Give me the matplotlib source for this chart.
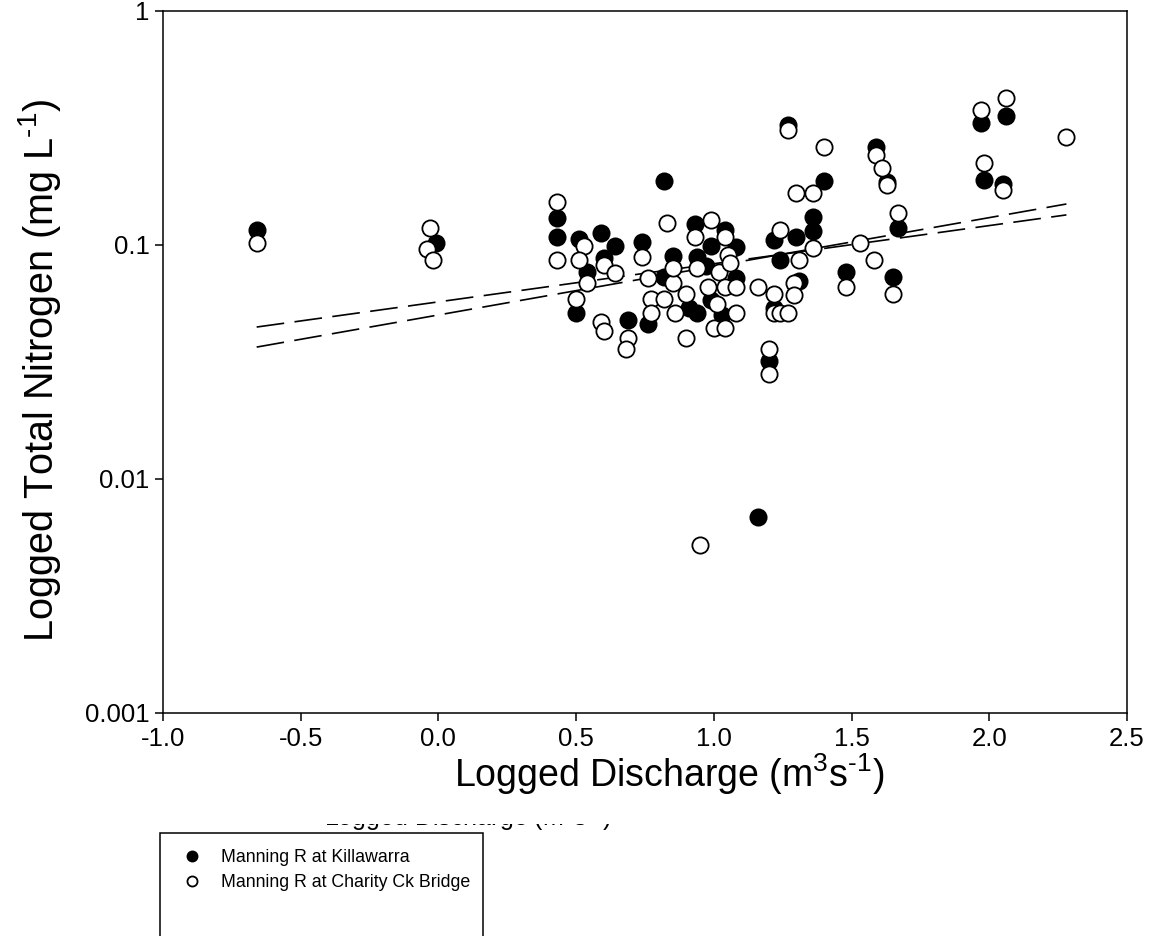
import matplotlib
matplotlib.use('Agg')
import matplotlib.pyplot as plt
import numpy as np
from matplotlib.patches import Rectangle
from matplotlib.ticker import NullLocator, FixedLocator, FixedFormatter

plt.rcParams['font.family'] = ['Liberation Sans', 'DejaVu Sans']
plt.rcParams['mathtext.fontset'] = 'custom'
plt.rcParams['mathtext.rm'] = 'Liberation Sans'
plt.rcParams['mathtext.it'] = 'Liberation Sans:italic'
plt.rcParams['mathtext.bf'] = 'Liberation Sans:bold'
plt.rcParams['lines.scale_dashes'] = False
plt.rcParams['axes.unicode_minus'] = False

# ---- data (log10 discharge, total nitrogen mg/L) ----
killawarra_q = [-0.66, -0.01, 0.43, 0.43, 0.51, 0.59, 0.64, 0.60, 0.54, 0.50,
                0.74, 0.69, 0.76, 0.82, 0.82, 0.85, 0.93, 0.94, 0.91, 0.94,
                0.97, 0.99, 0.99, 1.04, 1.08, 1.08, 1.03, 1.16, 1.22, 1.24,
                1.27, 1.30, 1.31, 1.22, 1.20, 1.36, 1.36, 1.40, 1.48, 1.59,
                1.63, 1.67, 1.65, 1.97, 2.06, 1.98, 2.05]
killawarra_tn = [0.116, 0.102, 0.130, 0.108, 0.106, 0.113, 0.099, 0.088, 0.077, 0.051,
                 0.103, 0.048, 0.046, 0.188, 0.073, 0.090, 0.123, 0.089, 0.054, 0.051,
                 0.081, 0.058, 0.099, 0.116, 0.098, 0.072, 0.050, 0.0069, 0.105, 0.086,
                 0.326, 0.108, 0.070, 0.054, 0.032, 0.132, 0.115, 0.188, 0.077, 0.262,
                 0.186, 0.118, 0.073, 0.332, 0.356, 0.190, 0.182]

charity_q = [-0.66, -0.03, -0.04, -0.02, 0.43, 0.43, 0.53, 0.51, 0.60, 0.64,
             0.54, 0.50, 0.59, 0.60, 0.74, 0.76, 0.77, 0.77, 0.69, 0.68,
             0.83, 0.82, 0.85, 0.85, 0.86, 0.90, 0.90, 0.93, 0.94, 0.99,
             0.98, 1.01, 1.00, 1.04, 1.02, 1.04, 1.04, 1.05, 1.06, 1.08,
             1.08, 1.16, 0.95, 1.24, 1.31, 1.36, 1.29, 1.29, 1.22, 1.22,
             1.24, 1.27, 1.20, 1.20, 1.27, 1.40, 1.30, 1.36, 1.53, 1.58,
             1.48, 1.59, 1.61, 1.63, 1.67, 1.65, 1.97, 2.06, 2.28, 1.98,
             2.05]
charity_tn = [0.102, 0.118, 0.096, 0.086, 0.153, 0.086, 0.099, 0.086, 0.082, 0.076,
              0.069, 0.059, 0.047, 0.043, 0.089, 0.072, 0.059, 0.051, 0.040, 0.036,
              0.124, 0.059, 0.069, 0.080, 0.051, 0.062, 0.040, 0.108, 0.080, 0.128,
              0.066, 0.056, 0.044, 0.044, 0.077, 0.066, 0.108, 0.091, 0.084, 0.051,
              0.066, 0.066, 0.0052, 0.116, 0.086, 0.097, 0.069, 0.061, 0.062, 0.051,
              0.051, 0.051, 0.036, 0.028, 0.310, 0.262, 0.167, 0.167, 0.102, 0.086,
              0.066, 0.242, 0.213, 0.180, 0.137, 0.062, 0.377, 0.425, 0.290, 0.224,
              0.172]

# regression fits: log10(TN) = intercept + slope * logQ
fit_a = (-1.243, 0.163)
fit_b = (-1.299, 0.208)

x_ticks = [-1.0, -0.5, 0.0, 0.5, 1.0, 1.5, 2.0, 2.5]
y_ticks = [0.001, 0.01, 0.1, 1]
y_ticklabels = ['0.001', '0.01', '0.1', '1']
labels = ['Manning R at Killawarra', 'Manning R at Charity Ck Bridge']

W, H = 1158, 936
fig = plt.figure(figsize=(W / 100, H / 100), dpi=100)
ax = fig.add_axes([163 / W, 1 - 713 / H, (1127 - 163) / W, (713 - 11) / H])

qmin = min(min(killawarra_q), min(charity_q))
qmax = max(max(killawarra_q), max(charity_q))
xs = np.array([qmin, qmax])
for a, b in (fit_a, fit_b):
    ax.plot(xs, 10 ** (a + b * xs), color='black', lw=1.2,
            linestyle=(0, (20, 7.5)), zorder=2)

ms, mew = 11.7, 1.3
hk, = ax.plot(killawarra_q, killawarra_tn, linestyle='none', marker='o', ms=ms,
              mfc='black', mec='black', mew=mew, zorder=3)
hc, = ax.plot(charity_q, charity_tn, linestyle='none', marker='o', ms=ms,
              mfc='white', mec='black', mew=mew, zorder=4)

ax.set_yscale('log')
ax.set_xlim(-1.0, 2.5)
ax.set_ylim(0.001, 1)
ax.xaxis.set_major_locator(FixedLocator(x_ticks))
ax.set_xticklabels(['%.1f' % v for v in x_ticks])
ax.yaxis.set_major_locator(FixedLocator(y_ticks))
ax.yaxis.set_major_formatter(FixedFormatter(y_ticklabels))
ax.yaxis.set_minor_locator(NullLocator())
ax.tick_params(direction='out', length=5.8, width=1.1, labelsize=18.5, pad=4)
for s in ax.spines.values():
    s.set_linewidth(1.1)

def fx(px):
    return px / W

def fy(py):
    return 1 - py / H

xlabel = 'Logged Discharge (m$^{\\text{3}}$s$^{\\text{-1}}$)'
fig.text(fx(669), fy(787), xlabel, ha='center', va='baseline', fontsize=27, zorder=5)
fig.text(fx(40), fy(370), 'Logged Total Nitrogen (mg L$^{\\text{-1}}$)', rotation=90,
         ha='center', va='center', fontsize=28.5, zorder=5)

# partially hidden duplicate label peeking out above the legend box
fig.text(fx(468), fy(826), xlabel, ha='center', va='baseline', fontsize=18, zorder=3)
cover = Rectangle((fx(290), fy(824)), fx(680) - fx(290), fy(798) - fy(824),
                  transform=fig.transFigure, facecolor='white', edgecolor='none',
                  zorder=3.5)
fig.add_artist(cover)

box = Rectangle((fx(160), fy(960)), fx(483) - fx(160), fy(833) - fy(960),
                transform=fig.transFigure, facecolor='white', edgecolor='black',
                lw=1.1, zorder=4)
fig.add_artist(box)

leg = fig.legend(handles=[hk, hc], labels=labels, loc='upper left',
                 bbox_to_anchor=(fx(183), fy(849)), frameon=False,
                 prop={'family': ['Liberation Sans'], 'size': 12.8},
                 markerscale=0.62, handlelength=1.0, handletextpad=1.15,
                 borderpad=0, borderaxespad=0, labelspacing=0.45)
leg.set_zorder(6)

fig.savefig('out.png', dpi=100)
